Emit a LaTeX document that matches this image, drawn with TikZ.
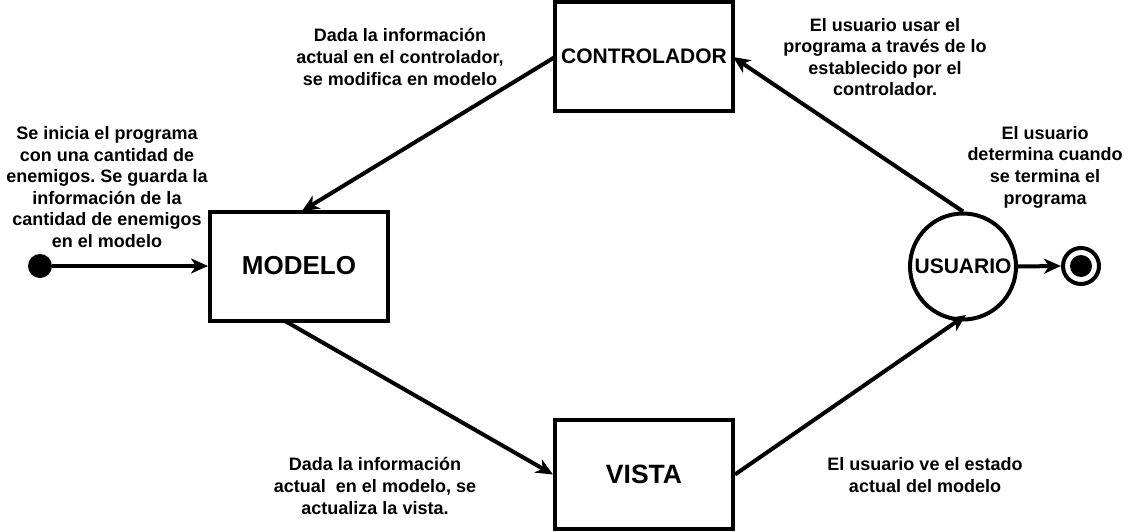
\documentclass[tikz,border=0pt]{standalone}
\usepackage{fontspec}
\setmainfont{Liberation Sans}
\usetikzlibrary{arrows.meta}
\frenchspacing

\tikzset{
    estado/.style={draw,line width=4pt,minimum width=178pt,minimum height=109pt,font=\bfseries},
    flecha/.style={line width=4pt,-{Stealth[length=17pt,width=15pt,inset=5pt]}},
    nota/.style={align=center,font=\fontsize{18}{21.6}\selectfont\bfseries}
}

\begin{document}
\begin{tikzpicture}[x=1pt,y=-1pt]
    \useasboundingbox (0,0) rectangle (1131,532);
    \coordinate (C) at (644,56.5);
    \coordinate (M) at (299,266);
    \coordinate (V) at (644,474.5);
    \coordinate (U) at (963,266.5);
    % estados
    \node [estado] (controlador) at (C) {\fontsize{21}{25}\selectfont CONTROLADOR};
    \node [estado] (modelo) at (M) {\fontsize{26}{30}\selectfont MODELO};
    \node [estado] (vista) at (V) {\fontsize{26.5}{30}\selectfont VISTA};
    \node [draw,circle,line width=4pt,minimum size=106pt,inner sep=0pt,font=\bfseries] (usuario) at (U) {\fontsize{21}{25}\selectfont USUARIO};
    \node [circle,fill,minimum size=24pt,inner sep=0pt] (inicio) at (40,266) {};
    \node [circle,draw,line width=4pt,minimum size=36pt,inner sep=0pt] (fin) at (1081,266) {};
    \node [circle,fill,minimum size=22pt,inner sep=0pt] at (fin) {};
    % transiciones
    \draw [flecha] (inicio) -- (modelo.west);
    \draw [flecha] (555,57) -- (302,211);
    \draw [flecha] (285,321) -- (vista.west);
    \draw [flecha] (vista.east) -- (966,315);
    \draw [flecha] (usuario.north) -- (733,57);
    \draw [flecha] (usuario.east) -- (fin.west);
    % notas
    \node [nota] (notaInicio) at (107,187) {Se inicia el programa\\con una cantidad de\\enemigos. Se guarda la\\informaci\'on de la\\cantidad de enemigos\\en el modelo};
    \node [nota] (notaControl) at (400,57) {Dada la informaci\'on\\actual en el controlador,\\se modifica en modelo};
    \node [nota] (notaUsuario) at (885,57) {El usuario usar el\\programa a trav\'es de lo\\establecido por el\\controlador.};
    \node [nota] (notaFin) at (1045,167) {El usuario\\determina cuando\\se termina el\\programa};
    \node [nota] (notaModelo) at (375,486) {Dada la informaci\'on\\actual\ \ en el modelo, se\\actualiza la vista.};
    \node [nota] (notaVista) at (925,475) {El usuario ve el estado\\actual del modelo};
\end{tikzpicture}
\end{document}
